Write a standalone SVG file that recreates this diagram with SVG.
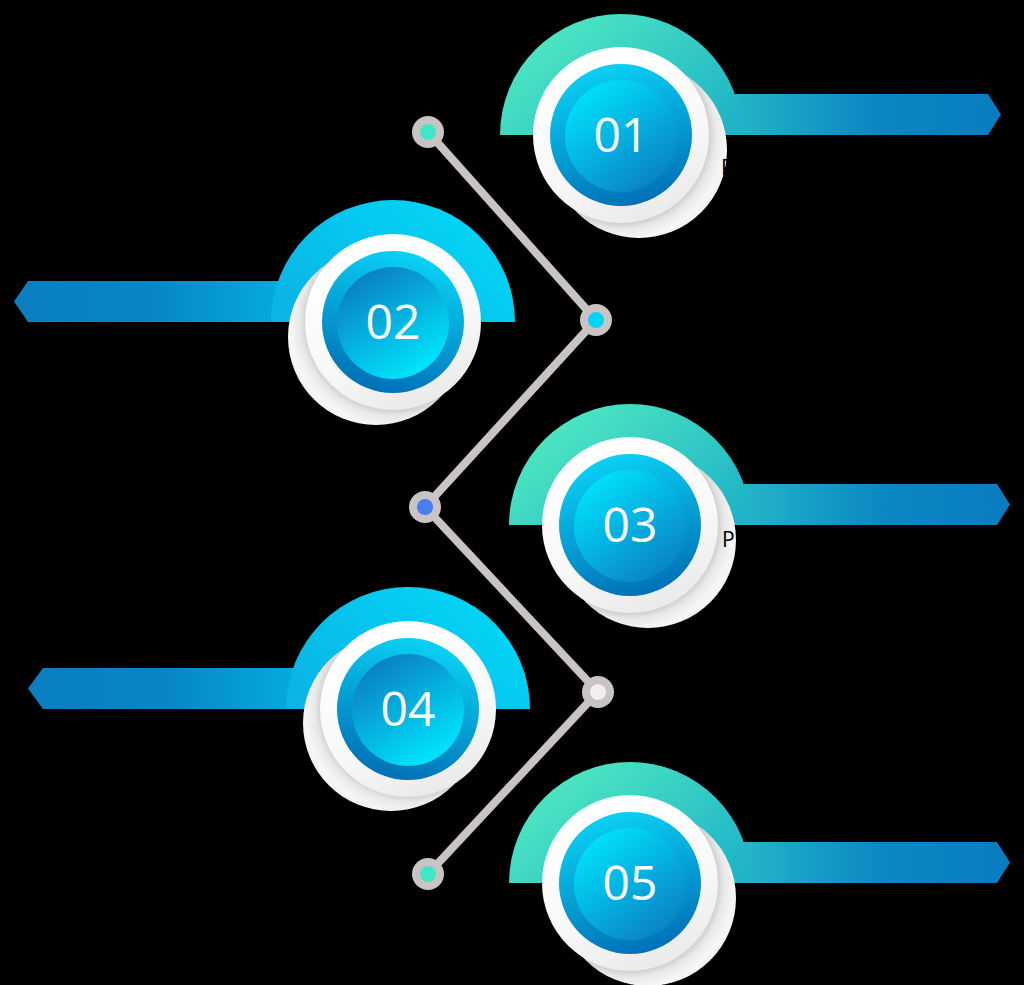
<svg xmlns="http://www.w3.org/2000/svg" width="1024" height="985" viewBox="0 0 1024 985">
<defs>
<linearGradient id="semiR" x1="0" y1="0.2" x2="1" y2="0.8"><stop offset="0" stop-color="#52edc0"/><stop offset="1" stop-color="#1fb4c8"/></linearGradient>
<linearGradient id="barR" x1="0" y1="0" x2="1" y2="0"><stop offset="0" stop-color="#26bac8"/><stop offset="0.55" stop-color="#0a88c3"/><stop offset="1" stop-color="#0a7cc0"/></linearGradient>
<linearGradient id="semiL" x1="1" y1="0.2" x2="0" y2="0.8"><stop offset="0" stop-color="#02d8f7"/><stop offset="1" stop-color="#0ab4e6"/></linearGradient>
<linearGradient id="barL" x1="1" y1="0" x2="0" y2="0"><stop offset="0" stop-color="#06aee2"/><stop offset="0.5" stop-color="#0686c7"/><stop offset="1" stop-color="#0a7ec0"/></linearGradient>
<linearGradient id="ring" x1="0.3" y1="0" x2="0.7" y2="1"><stop offset="0" stop-color="#ffffff"/><stop offset="0.6" stop-color="#f8f8f8"/><stop offset="1" stop-color="#e9e9e9"/></linearGradient>
<radialGradient id="shR" cx="0.398" cy="0.415" r="0.66" fx="0.398" fy="0.415"><stop offset="0.75" stop-color="#cdcdcd"/><stop offset="0.81" stop-color="#e8e8e8"/><stop offset="0.9" stop-color="#f6f6f6"/><stop offset="1" stop-color="#f2f2f2"/></radialGradient>
<radialGradient id="shL" cx="0.602" cy="0.415" r="0.66" fx="0.602" fy="0.415"><stop offset="0.75" stop-color="#cdcdcd"/><stop offset="0.81" stop-color="#e8e8e8"/><stop offset="0.9" stop-color="#f6f6f6"/><stop offset="1" stop-color="#f2f2f2"/></radialGradient>
<linearGradient id="outR" x1="0.35" y1="0" x2="0.65" y2="1"><stop offset="0" stop-color="#0ad2f5"/><stop offset="1" stop-color="#006eb6"/></linearGradient>
<linearGradient id="inR" x1="0.2" y1="0.1" x2="0.8" y2="0.9"><stop offset="0" stop-color="#00defa"/><stop offset="1" stop-color="#0a84c6"/></linearGradient>
<linearGradient id="outL" x1="0.65" y1="0" x2="0.35" y2="1"><stop offset="0" stop-color="#0ad4f6"/><stop offset="1" stop-color="#006eb6"/></linearGradient>
<linearGradient id="inL" x1="0.25" y1="0.1" x2="0.75" y2="0.9"><stop offset="0" stop-color="#0a84c6"/><stop offset="1" stop-color="#00e2fb"/></linearGradient>
</defs>
<style>
.ring{fill:url(#ring)}
.shR{fill:url(#shR)}
.shL{fill:url(#shL)}
.num{font-family:"Open Sans","Liberation Sans",sans-serif;font-size:48px;fill:#ffffff;text-anchor:middle}
.txt{font-family:"Open Sans","Liberation Sans",sans-serif;font-size:21px;fill:#000000}
.line{fill:none;stroke:#c9c3c3;stroke-width:8;stroke-linejoin:round}
.dot{fill:#c9c3c3}
</style>
<rect width="1024" height="985" fill="#000000"/>

<g id="connectors">
<polyline class="line" points="428,132 596,320 425,507 598,692 428,874"/>
<circle class="dot" cx="428" cy="132" r="16"/><circle cx="428" cy="132" r="8" fill="#3fe6c8"/>
<circle class="dot" cx="596" cy="320" r="16"/><circle cx="596" cy="320" r="8" fill="#06d2f5"/>
<circle class="dot" cx="425" cy="507" r="16"/><circle cx="425" cy="507" r="8" fill="#4a7cf2"/>
<circle class="dot" cx="598" cy="692" r="16"/><circle cx="598" cy="692" r="8" fill="#f2eeee"/>
<circle class="dot" cx="428" cy="874" r="16"/><circle cx="428" cy="874" r="8" fill="#3fe6c8"/>
</g>

<g id="step01">
<path fill="url(#barR)" d="M720,94 H988 L1001,114.5 L988,135 H720 Z"/>
<path fill="url(#semiR)" d="M500,135 A121,121 0 0 1 742,135 Z"/>
<circle class="shR" cx="639" cy="150" r="88"/>
<circle class="ring" cx="621" cy="135" r="88"/>
<circle fill="url(#outR)" cx="621" cy="135" r="71"/>
<circle fill="url(#inR)" cx="621" cy="136" r="56"/>
<text class="num" x="621" y="152">01</text>
<text class="txt" x="721" y="175">P</text>
</g>

<g id="step02">
<path fill="url(#barL)" d="M293,281 H28 L14,301.5 L28,322 H293 Z"/>
<path fill="url(#semiL)" d="M271,322 A122,122 0 0 1 515,322 Z"/>
<circle class="shL" cx="376" cy="337" r="88"/>
<circle class="ring" cx="393" cy="322" r="88"/>
<circle fill="url(#outL)" cx="393" cy="322" r="71"/>
<circle fill="url(#inL)" cx="393" cy="323" r="56"/>
<text class="num" x="393" y="339">02</text>
</g>

<g id="step03">
<path fill="url(#barR)" d="M729,484 H997 L1010,504.5 L997,525 H729 Z"/>
<path fill="url(#semiR)" d="M509,525 A121,121 0 0 1 751,525 Z"/>
<circle class="shR" cx="648" cy="540" r="88"/>
<circle class="ring" cx="630" cy="525" r="88"/>
<circle fill="url(#outR)" cx="630" cy="525" r="71"/>
<circle fill="url(#inR)" cx="630" cy="526" r="56"/>
<text class="num" x="630" y="542">03</text>
<text class="txt" x="722" y="547">P</text>
</g>

<g id="step04">
<path fill="url(#barL)" d="M308,668 H43 L28,688.5 L43,709 H308 Z"/>
<path fill="url(#semiL)" d="M286,709 A122,122 0 0 1 530,709 Z"/>
<circle class="shL" cx="391" cy="723" r="88"/>
<circle class="ring" cx="408" cy="709" r="88"/>
<circle fill="url(#outL)" cx="408" cy="709" r="71"/>
<circle fill="url(#inL)" cx="408" cy="710" r="56"/>
<text class="num" x="408" y="726">04</text>
</g>

<g id="step05">
<path fill="url(#barR)" d="M729,842 H997 L1010,862.5 L997,883 H729 Z"/>
<path fill="url(#semiR)" d="M509,883 A121,121 0 0 1 751,883 Z"/>
<circle class="shR" cx="648" cy="898" r="88"/>
<circle class="ring" cx="630" cy="883" r="88"/>
<circle fill="url(#outR)" cx="630" cy="883" r="71"/>
<circle fill="url(#inR)" cx="630" cy="884" r="56"/>
<text class="num" x="630" y="900">05</text>
</g>
</svg>
